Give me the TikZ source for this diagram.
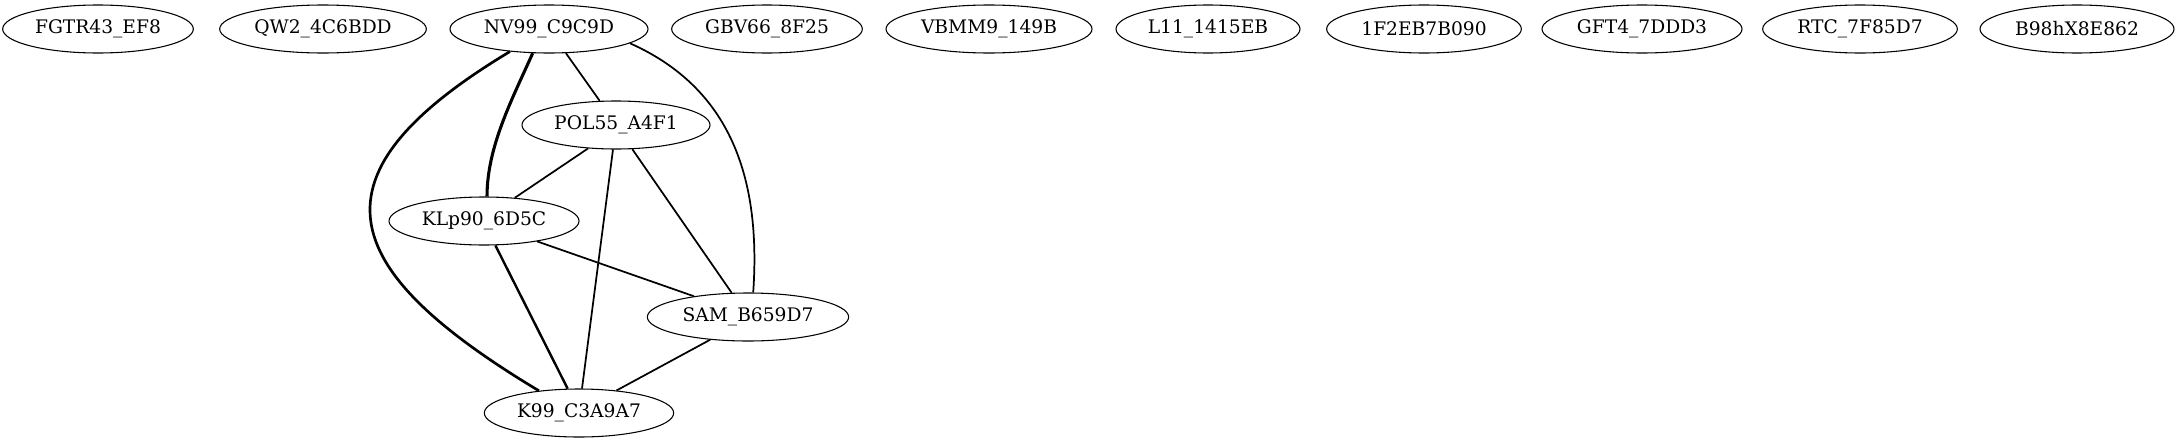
\documentclass[tikz,border=0pt]{standalone}
\usepackage{fontspec}
\setmainfont{DejaVu Serif}
\usepackage{tikz}
\usetikzlibrary{shapes.geometric}

\begin{document}
\begin{tikzpicture}[x=0.75pt,y=0.75pt, vertex/.style={ellipse,draw,line width=0.8pt,inner xsep=0pt,inner ysep=0pt,minimum height=36pt,font=\fontsize{14pt}{16pt}\selectfont}, link/.style={-, black, line width=1.3pt}, heavy/.style={-, black, line width=1.8pt} ]
\useasboundingbox (0,0) rectangle (2177,-443);
\node (fgtr) [vertex, minimum width=143pt] at (98,-29) {FGTR43\_EF8};
\node (qw) [vertex, minimum width=155pt] at (323,-29) {QW2\_4C6BDD};
\node (nv) [vertex, minimum width=148.5pt] at (549,-29) {NV99\_C9C9D};
\node (gbv) [vertex, minimum width=143pt] at (767,-29) {GBV66\_8F25};
\node (vbmm) [vertex, minimum width=154.5pt] at (989,-29) {VBMM9\_149B};
\node (l11) [vertex, minimum width=138pt] at (1208,-29) {L11\_1415EB};
\node (f2eb) [vertex, minimum width=146pt] at (1424,-29) {1F2EB7B090};
\node (gft) [vertex, minimum width=150pt] at (1642,-29) {GFT4\_7DDD3};
\node (rtc) [vertex, minimum width=146pt] at (1860,-29) {RTC\_7F85D7};
\node (b98) [vertex, minimum width=145.5pt] at (2077,-29) {B98hX8E862};
\node (pol) [vertex, minimum width=141pt] at (616,-125) {POL55\_A4F1};
\node (klp) [vertex, minimum width=142.5pt] at (484,-221) {KLp90\_6D5C};
\node (sam) [vertex, minimum width=151pt] at (748,-317) {SAM\_B659D7};
\node (k99) [vertex, minimum width=142pt] at (579,-413) {K99\_C3A9A7};
  \begin{scope}
    \draw [link] (nv.-55) -- (pol.124);
    \draw [link, line width=2.3pt] (nv.-124) .. controls +(-114:50) and +(90:50) .. (klp.83);
    \draw [link, line width=2pt] (nv.-150) .. controls +(-149:239) and +(149:239) .. (k99.151);
    \draw [link] (nv.-10) .. controls +(-24:110) and +(86:115) .. (sam.78);
  \end{scope}
  \begin{scope}
    \draw [link] (pol.-140) -- (klp.37);
    \draw [link] (pol.-97) -- (k99.83);
    \draw [link] (pol.-56) -- (sam.124);
    \draw [link] (klp.-21) -- (sam.159);
    \draw [heavy] (klp.-65) -- (k99.115);
    \draw [link] (sam.-149) -- (k99.31);
  \end{scope}
\end{tikzpicture}
\end{document}
